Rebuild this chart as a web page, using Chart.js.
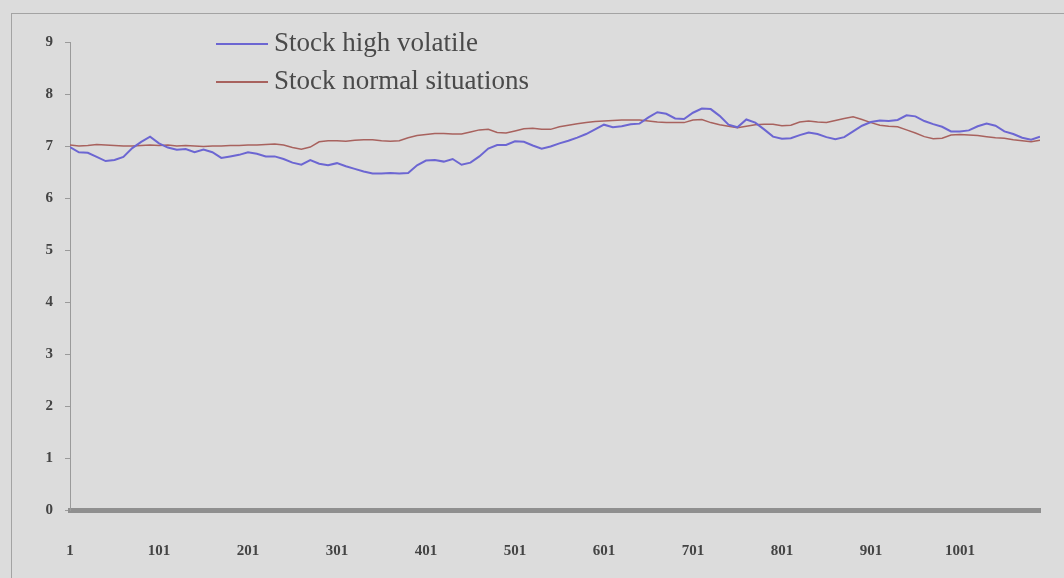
<!DOCTYPE html>
<html>
<head>
<meta charset="utf-8">
<script src="https://cdn.jsdelivr.net/npm/chart.js@4.4.1/dist/chart.umd.min.js"></script>
<style>
    body { margin: 0; background: #dcdcdc; }
    #wrap { position: relative; width: 1064px; height: 578px; overflow: hidden; background: #dcdcdc; }
    #frame { position: absolute; left: 11px; top: 13px; width: 1060px; height: 580px; border: 1px solid #a3a3a3; box-sizing: border-box; }
    canvas { position: absolute; left: 0; top: 0; }
    .legend { position: absolute; left: 216px; font-family: 'Liberation Serif', 'Times New Roman', serif; font-size: 27px; color: #4a4a4a; white-space: nowrap; line-height: 30px; }
    .legend .swatch { display: inline-block; width: 52px; height: 2px; vertical-align: middle; margin-right: 6px; position: relative; top: -1px; }
</style>
</head>
<body>
<div id="wrap">
    <div id="frame"></div>
    <canvas id="stockChart" width="1064" height="578"></canvas>
    <div class="legend" id="legendHigh" style="top:27px"><span class="swatch"></span><span class="txt"></span></div>
    <div class="legend" id="legendNormal" style="top:65px"><span class="swatch"></span><span class="txt"></span></div>
</div>
<script>
// Series names
const seriesNames = ['Stock high volatile', 'Stock normal situations'];
const seriesColors = ['#6c66d2', '#a8625e'];

// Values, one sample every 10 steps starting at step 1
const sampleEvery = 10;

const highVolatile = [
    6.98, 6.88, 6.87, 6.79, 6.71, 6.73, 6.79, 6.96, 7.08, 7.18,
    7.05, 6.97, 6.93, 6.94, 6.88, 6.93, 6.88, 6.77, 6.80, 6.83,
    6.88, 6.85, 6.80, 6.80, 6.75, 6.68, 6.64, 6.73, 6.66, 6.63,
    6.67, 6.61, 6.56, 6.51, 6.47, 6.47, 6.48, 6.47, 6.48, 6.63,
    6.72, 6.73, 6.70, 6.75, 6.64, 6.68, 6.80, 6.95, 7.02, 7.02,
    7.09, 7.08, 7.01, 6.95, 6.99, 7.05, 7.10, 7.16, 7.23, 7.32,
    7.41, 7.36, 7.38, 7.42, 7.43, 7.55, 7.65, 7.62, 7.53, 7.52,
    7.64, 7.72, 7.71, 7.58, 7.41, 7.36, 7.51, 7.45, 7.32, 7.18,
    7.14, 7.15, 7.21, 7.26, 7.23, 7.17, 7.13, 7.17, 7.28, 7.39,
    7.46, 7.49, 7.48, 7.50, 7.59, 7.57, 7.48, 7.42, 7.37, 7.28,
    7.28, 7.30, 7.38, 7.43, 7.39, 7.28, 7.23, 7.16, 7.12, 7.18
];

const normalSituations = [
    7.02, 7.00, 7.01, 7.03, 7.02, 7.01, 7.00, 7.00, 7.01, 7.02,
    7.01, 7.02, 7.00, 7.01, 7.00, 6.99, 7.00, 7.00, 7.01, 7.01,
    7.02, 7.02, 7.03, 7.04, 7.02, 6.97, 6.94, 6.98, 7.08, 7.10,
    7.10, 7.09, 7.11, 7.12, 7.12, 7.10, 7.09, 7.10, 7.16, 7.20,
    7.22, 7.24, 7.24, 7.23, 7.23, 7.27, 7.31, 7.32, 7.26, 7.25,
    7.29, 7.33, 7.34, 7.32, 7.32, 7.37, 7.40, 7.43, 7.45, 7.47,
    7.48, 7.49, 7.50, 7.50, 7.50, 7.48, 7.46, 7.45, 7.45, 7.45,
    7.50, 7.51, 7.45, 7.41, 7.38, 7.35, 7.38, 7.41, 7.42, 7.42,
    7.39, 7.40, 7.46, 7.48, 7.46, 7.45, 7.49, 7.53, 7.56, 7.51,
    7.45, 7.40, 7.38, 7.37, 7.31, 7.25, 7.18, 7.14, 7.15, 7.21,
    7.22, 7.21, 7.20, 7.18, 7.16, 7.15, 7.12, 7.10, 7.08, 7.11
];

// Axis ticks
const xTickValues = [1, 101, 201, 301, 401, 501, 601, 701, 801, 901, 1001];
const yTickValues = [0, 1, 2, 3, 4, 5, 6, 7, 8, 9];
const xMax = 1091;

const axisFont = { family: "'Liberation Serif', 'Times New Roman', serif", size: 15, weight: 'bold' };

function toPoints(values) {
    return values.map((v, i) => ({ x: 1 + i * sampleEvery, y: v }));
}

// Legend (html, so the text stays text)
['legendHigh', 'legendNormal'].forEach((id, i) => {
    const el = document.getElementById(id);
    el.querySelector('.swatch').style.background = seriesColors[i];
    el.querySelector('.txt').textContent = seriesNames[i];
});

new Chart(document.getElementById('stockChart').getContext('2d'), {
    type: 'line',
    data: {
        datasets: [
            {
                label: seriesNames[0],
                data: toPoints(highVolatile),
                borderColor: seriesColors[0],
                borderWidth: 2,
                pointRadius: 0,
                tension: 0
            },
            {
                label: seriesNames[1],
                data: toPoints(normalSituations),
                borderColor: seriesColors[1],
                borderWidth: 1.5,
                pointRadius: 0,
                tension: 0
            }
        ]
    },
    options: {
        responsive: false,
        animation: false,
        layout: { padding: { left: 0, right: 24, top: 42, bottom: 0 } },
        plugins: {
            legend: { display: false },
            tooltip: { enabled: false }
        },
        scales: {
            x: {
                type: 'linear',
                min: 1,
                max: xMax,
                afterBuildTicks: scale => { scale.ticks = xTickValues.map(v => ({ value: v })); },
                afterFit: scale => { scale.height = 68; },
                grid: { display: false },
                border: { display: true, width: 5, color: '#8f8f8f' },
                ticks: {
                    font: axisFont, color: '#444444', padding: 24, maxRotation: 0, autoSkip: false,
                    callback: value => String(value)
                }
            },
            y: {
                min: 0,
                max: 9,
                afterBuildTicks: scale => { scale.ticks = yTickValues.map(v => ({ value: v })); },
                afterFit: scale => { scale.width = 70; },
                grid: { drawOnChartArea: false, drawTicks: true, tickLength: 5, color: '#9a9a9a' },
                border: { display: true, width: 1, color: '#9a9a9a' },
                ticks: { font: axisFont, color: '#444444', padding: 12 }
            }
        }
    }
});
</script>
</body>
</html>
